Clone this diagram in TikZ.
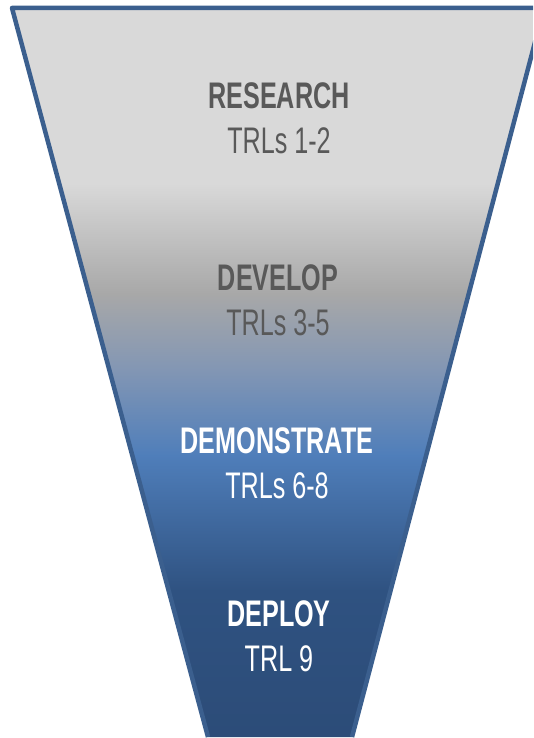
\documentclass[tikz,border=0pt]{standalone}
\usepackage{fontspec}
\newfontfamily\funnelfont{Liberation Sans}[FakeStretch=0.68]
\definecolor{funnelline}{HTML}{3B5F8E}
\definecolor{shadeA}{HTML}{D9D9D9}
\definecolor{shadeB}{HTML}{A8A8A8}
\definecolor{shadeC}{HTML}{8296B4}
\definecolor{shadeD}{HTML}{4F7EBA}
\definecolor{shadeE}{HTML}{2F5281}
\definecolor{shadeF}{HTML}{2C4C78}
\definecolor{stagegray}{HTML}{595959}

\begin{document}
\begin{tikzpicture}[x=1pt, y=-1pt,
    stage/.style={anchor=base, font=\funnelfont\bfseries\fontsize{37}{40}\selectfont},
    trl/.style={anchor=base, font=\funnelfont\fontsize{37}{40}\selectfont}]
  \useasboundingbox (0,0) rectangle (533,738);
  \clip (0,0) rectangle (533,738);
  \coordinate (tl) at (12,8);
  \coordinate (tr) at (544,8);
  \coordinate (br) at (352,737);
  \coordinate (bl) at (208,737);
  % funnel body
  \begin{scope}
    \clip (tl) -- (tr) -- (br) -- (bl) -- cycle;
    \fill[shadeA] (0,0) rectangle (533,184);
    \foreach \ya/\yb/\ca/\cb in {183/294/shadeA/shadeB, 293/371/shadeB/shadeC, 370/456/shadeC/shadeD, 455/591/shadeD/shadeE, 590/738/shadeE/shadeF}
      \shade[top color=\ca, bottom color=\cb] (0,\ya) rectangle (533,\yb);
  \end{scope}
  \draw[funnelline, line width=4.5pt, line join=round] (bl) -- (tl) -- (tr) -- (br);
  % stages
  \node[stage, text=stagegray] (research) at (279,109) {RESEARCH};
  \node[trl, text=stagegray] (trlsA) at (279,154) {TRLs 1-2};
  \node[stage, text=stagegray] (develop) at (278,290) {DEVELOP};
  \node[trl, text=stagegray] (trlsB) at (278,335) {TRLs 3-5};
  \node[stage, text=white] (demonstrate) at (277,453) {DEMONSTRATE};
  \node[trl, text=white] (trlsC) at (277,498) {TRLs 6-8};
  \node[stage, text=white] (deploy) at (279,626) {DEPLOY};
  \node[trl, text=white] (trlsD) at (279,671) {TRL 9};
\end{tikzpicture}
\end{document}
